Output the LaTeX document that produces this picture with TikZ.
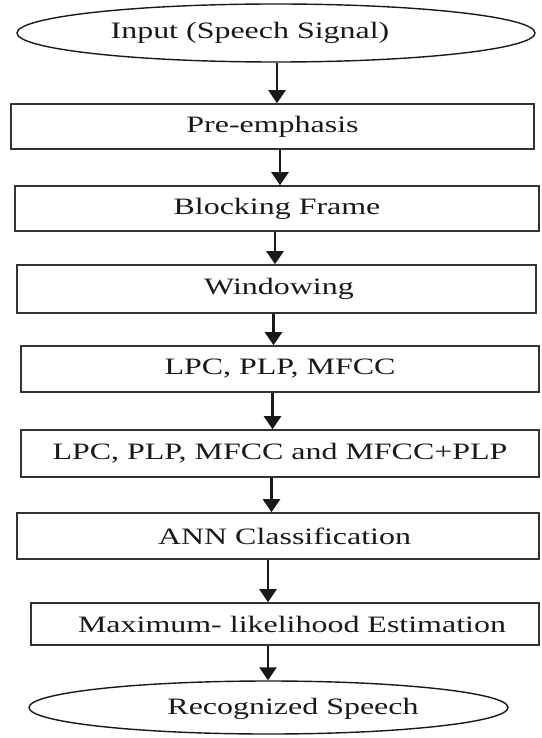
\documentclass[tikz,border=0pt]{standalone}
\usepackage{fontspec}
\setmainfont{Liberation Serif}[FakeStretch=1.36]
\usetikzlibrary{arrows.meta,shapes.geometric}
\begin{document}
\begin{tikzpicture}[x=1pt,y=-1pt,
  lbl/.style={font=\fontsize{23.5}{28}\selectfont, text=black!90},
  stage/.style={draw=black!80, line width=1.6pt, rectangle, inner sep=0pt, lbl},
  term/.style={draw=black!90, line width=1.4pt, ellipse, inner sep=0pt},
  tshift/.style={execute at begin node={\hspace*{#1}}},
  flow/.style={line width=2.6pt, draw=black!90, -{Triangle[length=13pt,width=17pt]}}
]
\useasboundingbox (0,0) rectangle (541,738);

% terminals and processing stages
\node[term, minimum width=518pt, minimum height=58pt,
      label={[lbl, xshift=-26pt]center:Input (Speech Signal)}] (in) at (276,33) {};
\node[stage, minimum width=523pt, minimum height=45pt] (pre) at (272.5,126.5) {Pre-emphasis};
\node[stage, minimum width=524pt, minimum height=45pt] (blk) at (277,208.5) {Blocking Frame};
\node[stage, minimum width=519pt, minimum height=48pt, tshift=5pt] (win) at (276.5,289) {Windowing};
\node[stage, minimum width=518pt, minimum height=46pt] (feat) at (280,369) {LPC, PLP, MFCC};
\node[stage, minimum width=518pt, minimum height=47pt] (comb) at (280,453.5) {LPC, PLP, MFCC and MFCC+PLP};
\node[stage, minimum width=522pt, minimum height=46pt, tshift=13pt] (ann) at (278,536) {ANN Classification};
\node[stage, minimum width=508pt, minimum height=42pt, tshift=14pt] (mle) at (285,624) {Maximum- likelihood Estimation};
\node[term, minimum width=479pt, minimum height=53pt,
      label={[lbl, xshift=24.5pt, yshift=-1pt]center:Recognized Speech}] (out) at (268.5,707.5) {};

% connectors
\draw[flow] ([xshift=1pt]in.south) -- ([xshift=1pt]in.south |- pre.north);
\draw[flow] ([xshift=7.5pt]pre.south) -- ([xshift=7.5pt]pre.south |- blk.north);
\draw[flow] ([xshift=-2pt]blk.south) -- ([xshift=-2pt]blk.south |- win.north);
\draw[flow] ([xshift=-3pt]win.south) -- ([xshift=-3pt]win.south |- feat.north);
\draw[flow] ([xshift=-7.5pt]feat.south) -- ([xshift=-7.5pt]feat.south |- comb.north);
\draw[flow] ([xshift=-8.5pt]comb.south) -- ([xshift=-8.5pt]comb.south |- ann.north);
\draw[flow] ([xshift=-10pt]ann.south) -- ([xshift=-10pt]ann.south |- mle.north);
\draw[flow] ([xshift=-17pt]mle.south) -- ([xshift=-17pt]mle.south |- out.north);
\end{tikzpicture}
\end{document}
